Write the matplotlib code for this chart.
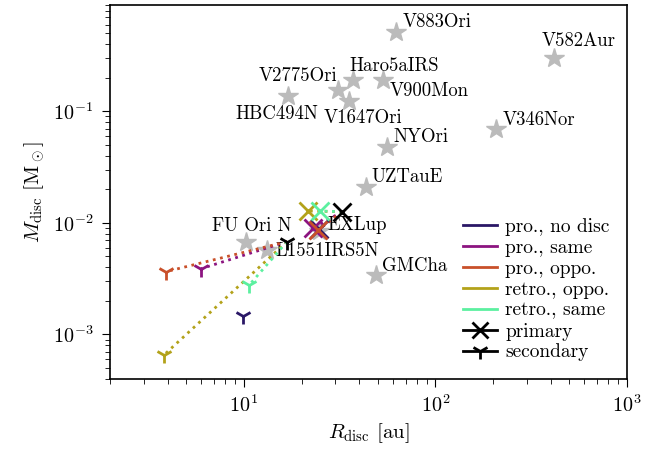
import matplotlib.pyplot as plt
from matplotlib.lines import Line2D

plt.rcParams.update({
    "font.family": "serif",
    "font.serif": ["cmr10"],
    "mathtext.fontset": "cm",
    "axes.formatter.use_mathtext": True,
    "font.size": 15,
    "xtick.labelsize": 14.5,
    "ytick.labelsize": 14.5,
    "xtick.major.size": 6,
    "ytick.major.size": 6,
    "xtick.minor.size": 3.5,
    "ytick.minor.size": 3.5,
    "xtick.major.pad": 5,
    "ytick.major.pad": 6,
    "axes.linewidth": 1.2,
})

# observed outbursting sources
obs_names = ["V883Ori", "V582Aur", "Haro5aIRS", "V900Mon", "V2775Ori", "V1647Ori",
             "HBC494N", "V346Nor", "NYOri", "UZTauE", "GMCha", "FU Ori N",
             "L1551IRS5N", "EXLup"]
obs_r = [62.5, 415, 37.2, 53.4, 31.1, 35.5, 17.0, 208, 56.1, 43.5, 49.1, 10.2, 13.2, 24.7]
obs_m = [0.518, 0.303, 0.193, 0.193, 0.154, 0.123, 0.136, 0.069, 0.0477, 0.021,
         0.00343, 0.00676, 0.00574, 0.0085]
# label offsets in pixels (x, y)
label_off = [(41, 10), (25, 17), (41, 14), (46, -11), (-40, 14), (14, -17),
             (-11, -18), (43, 9), (34, 10), (41, 10), (38, 9), (6, 16),
             (60, -1), (38, 6)]

# simulations: initial state (black) and final state per run
sim_labels = ["pro., no disc", "pro., same", "pro., oppo.", "retro., oppo.", "retro., same"]
sim_colors = ["#2a1766", "#8c1480", "#c9502a", "#b3a21a", "#5cf0a0"]
prim_r0, prim_m0 = 32.6, 0.0126
sec_r0, sec_m0 = 16.8, 0.0068
prim_r = [24.7, 23.0, 24.4, 21.6, 25.0]
prim_m = [0.0088, 0.0090, 0.0087, 0.0128, 0.0128]
sec_r = [9.9, 5.96, 3.91, 3.81, 10.7]
sec_m = [0.00145, 0.00388, 0.00365, 0.00065, 0.00279]

fig = plt.figure(figsize=(6.45, 4.51), dpi=100)
ax = fig.add_axes([0.1705, 0.160, 0.8015, 0.829])

ax.plot(obs_r, obs_m, ls="none", marker="*", ms=15, color="#bbbbbb", zorder=1)
for name, r, m, off in zip(obs_names, obs_r, obs_m, label_off):
    ax.annotate(name, (r, m), xytext=off, textcoords="offset pixels",
                ha="center", va="center", fontsize=13.5, zorder=2)

for i, c in enumerate(sim_colors):
    ax.plot([prim_r0, prim_r[i]], [prim_m0, prim_m[i]], ls=":", lw=2, color=c, zorder=3)
    if i > 0:
        ax.plot([sec_r0, sec_r[i]], [sec_m0, sec_m[i]], ls=":", lw=2, color=c, zorder=3)
    ax.plot(prim_r[i], prim_m[i], marker="x", ms=13, mew=2, color=c, zorder=4)
    ax.plot(sec_r[i], sec_m[i], marker="1", ms=12, mew=2, color=c, zorder=4)

ax.plot(prim_r0, prim_m0, marker="x", ms=13, mew=2, color="k", zorder=5)
ax.plot(sec_r0, sec_m0, marker="1", ms=12, mew=2, color="k", zorder=5)

ax.set_xscale("log")
ax.set_yscale("log")
ax.set_xlim(2, 1000)
ax.set_ylim(4e-4, 0.9)
ax.set_xlabel(r"$R_{\rm disc}$ [au]", fontsize=15)
ax.set_ylabel(r"$M_{\rm disc}$ [M$_\odot$]", fontsize=15)

handles = [Line2D([], [], color=c, lw=2) for c in sim_colors]
handles.append(Line2D([], [], color="k", lw=2, marker="x", ms=12, mew=2))
handles.append(Line2D([], [], color="k", lw=2, marker="1", ms=12, mew=2))
ax.legend(handles, sim_labels + ["primary", "secondary"], loc="lower right",
          frameon=False, fontsize=14, handlelength=1.75, handletextpad=0.4,
          labelspacing=0.15)

fig.savefig("out.png", dpi=100)
